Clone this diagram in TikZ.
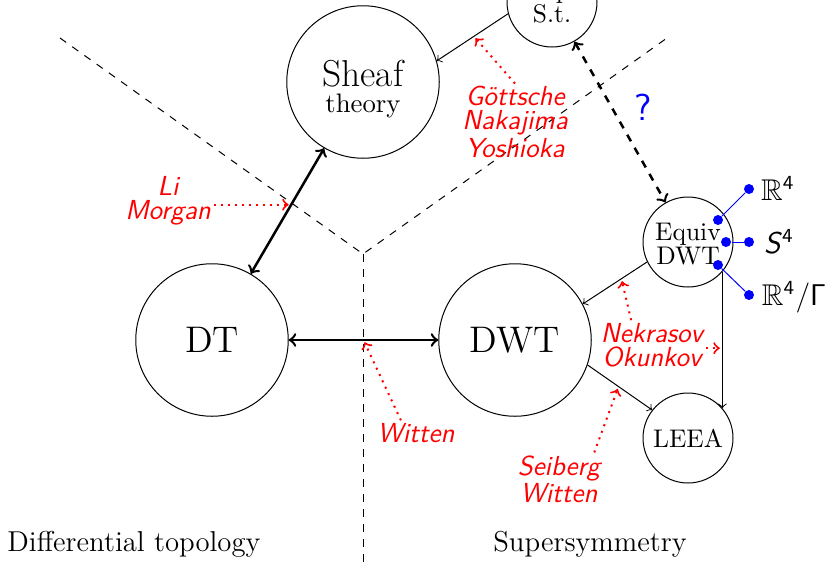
\documentclass[tikz,border=0pt]{standalone}
\usepackage{amssymb}
\usetikzlibrary{calc}

\begin{document}
\begin{tikzpicture}[x=0.4pt, y=-0.4pt,
  big/.style={circle, draw, thin, minimum size=61pt, inner sep=0pt,
              font=\fontsize{14.8}{17}\selectfont},
  small/.style={circle, draw, thin, minimum size=36pt, inner sep=0pt,
                align=center, font=\fontsize{10.2}{9.6}\selectfont},
  link/.style={->, thin},
  bond/.style={<->, line width=1pt},
  ref/.style={->, red, dotted, line width=0.8pt, shorten >=1pt},
  who/.style={red, align=center, inner sep=1pt,
              font=\fontsize{11}{9.6}\selectfont\sffamily\slshape},
  region/.style={dashed, thin},
  dot/.style={circle, fill=blue, inner sep=0pt, minimum size=4pt},
  spoke/.style={blue, thin},
  space/.style={font=\fontsize{12}{14}\selectfont},
  field/.style={font=\fontsize{11.5}{13}\selectfont}
]
\useasboundingbox (0,0) rectangle (833,567);

% the three regions
\coordinate (Y)  at (363,254);
\coordinate (YL) at (60,38);
\coordinate (YR) at (667,38);
\coordinate (YB) at (363,567);
\draw[region] (YL) -- (Y) -- (YR);
\draw[region] (Y) -- (YB);

% theories
\node[big] (DT)  at (212,340) {DT};
\node[big] (DWT) at (515,340) {DWT};
\node[big, align=center, font=\fontsize{15}{10.6}\selectfont] (Sheaf) at (363,82)
  {\rule{0pt}{16pt}Sheaf\\{\fontsize{10.7}{10.6}\selectfont theory}};
\node[small] (TopSt) at (552,2)   {Top.\\S.t.};
\node[small] (Equiv) at (688,242) {\rule{0pt}{9pt}Equiv\\DWT};
\node[small] (LEEA)  at (688,438) {LEEA};

% relations
\draw[bond] (DT) -- coordinate[pos=0.5] (w) (DWT);
\draw[bond] (DT) -- coordinate[pos=0.55] (lm) (Sheaf);
\draw[link] (TopSt.195) -- coordinate[pos=0.48] (gny) (Sheaf.16);
\draw[bond, dashed] (TopSt) -- (Equiv);
\draw[link] (Equiv.206) -- coordinate[pos=0.4] (no1) (DWT.28);
\draw[link] (DWT.-19) -- coordinate[pos=0.48] (sw) (LEEA.142);
\draw[link] (Equiv.-41) -- coordinate[pos=0.56] (no2) (LEEA.41);

\node[blue, font=\fontsize{15}{18}\selectfont\sffamily] (q) at (643,107) {?};

% authors
\node[who] (LM)  at (168,201) {Li\\Morgan};
\node[who] (GNY) at (515,122) {Göttsche\\Nakajima\\Yoshioka};
\node[who] (W)   at (416,433) {Witten};
\node[who] (SW)  at (559,479) {Seiberg\\Witten};
\node[who] (NO)  at (652,345) {Nekrasov\\Okunkov};

\draw[ref] (LM.east |- lm) -- (lm);
\draw[ref] (GNY.north) -- (gny);
\draw[ref] (W.140) -- (w);
\draw[ref] (SW.37) -- (sw);
\draw[ref] (NO.130) -- (no1);
\draw[ref] (NO.east |- no2) -- (no2);

% backgrounds for equivariant DWT
\node[dot] (d1a) at (718,220) {};
\node[dot] (d1b) at (749,189) {};
\node[dot] (d2a) at (726,242) {};
\node[dot] (d2b) at (749,242) {};
\node[dot] (d3a) at (718,265) {};
\node[dot] (d3b) at (749,295) {};
\draw[spoke] (d1a) -- (d1b);
\draw[spoke] (d2a) -- (d2b);
\draw[spoke] (d3a) -- (d3b);
\node[space] (r4) at (778,188) {$\mathbb{R}^{\mathsf{4}}$};
\node[space] (s4) at (779,242) {\textsf{\slshape S}$^{\mathsf{4}}$};
\node[space] (rg) at (794,297) {$\mathbb{R}^{\mathsf{4}}/\mathsf{\Gamma}$};

% fields
\node[field] (dtop) at (134,544) {Differential topology};
\node[field] (susy) at (590,544) {Supersymmetry};
\end{tikzpicture}
\end{document}
